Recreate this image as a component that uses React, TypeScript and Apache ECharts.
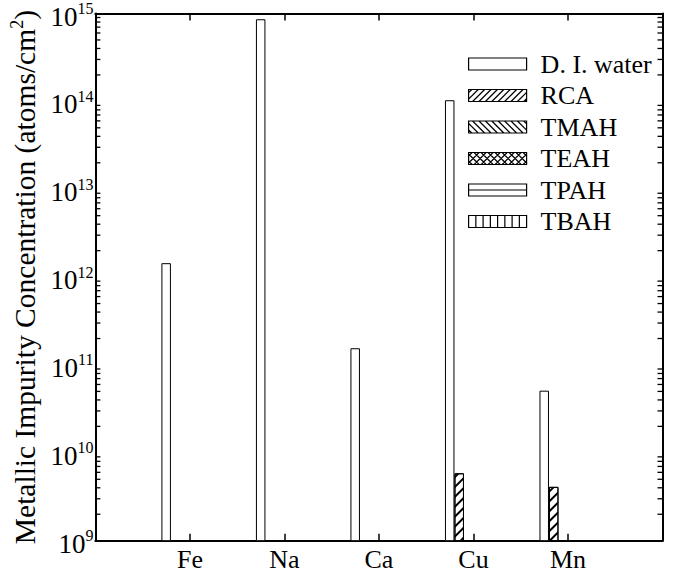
import React, { useEffect, useRef } from "react";
import * as echarts from "echarts";

const categories = ["", "Fe", "Na", "Ca", "Cu", "Mn", ""];
const seriesNames = ["D. I. water", "RCA", "TMAH", "TEAH", "TPAH", "TBAH"];
const diWater = [null, 1.44e12, 8.6e14, 1.55e11, 1.03e14, 5.1e10, null];
const rca = [null, null, null, null, 5.85e9, 4.1e9, null];
const tmah = [null, null, null, null, null, null, null];
const teah = [null, null, null, null, null, null, null];
const tpah = [null, null, null, null, null, null, null];
const tbah = [null, null, null, null, null, null, null];
const yMin = 1e9;
const yMax = 1e15;
const minorTickValues: number[] = [];
for (let d = 9; d < 15; d++) for (let k = 2; k <= 9; k++) minorTickValues.push(k * Math.pow(10, d));

const FONT = "'Liberation Serif', 'Times New Roman', serif";

// Legend icon paths (58 x 12 box)
const W = 58;
const H = 12;
const rectPath = `M0 0 L${W} 0 L${W} ${H} L0 ${H} Z`;
function clipSeg(x1: number, y1: number, x2: number, y2: number): string {
  // line with slope +-1 across the box, clip to x in [0, W]
  const dx = x2 - x1;
  const dy = y2 - y1;
  let t0 = 0;
  let t1 = 1;
  if (x1 < 0) t0 = Math.max(t0, (0 - x1) / dx);
  if (x2 > W) t1 = Math.min(t1, (W - x1) / dx);
  if (t0 >= t1) return "";
  const ax = x1 + dx * t0, ay = y1 + dy * t0, bx = x1 + dx * t1, by = y1 + dy * t1;
  return ` M${ax.toFixed(2)} ${ay.toFixed(2)} L${bx.toFixed(2)} ${by.toFixed(2)}`;
}
function hatch(dir: number, step: number): string {
  let d = "";
  for (let s = -H + step / 2; s < W; s += step) {
    d += dir > 0 ? clipSeg(s, H, s + H, 0) : clipSeg(s, 0, s + H, H);
  }
  return d;
}
function verticals(step: number): string {
  let d = "";
  for (let x = step; x < W - 1; x += step) d += ` M${x.toFixed(2)} 0 L${x.toFixed(2)} ${H}`;
  return d;
}
const legendIcons = [
  "path://" + rectPath,
  "path://" + rectPath + hatch(1, 6.4),
  "path://" + rectPath + hatch(-1, 6.4),
  "path://" + rectPath + hatch(1, 7) + hatch(-1, 7),
  "path://" + rectPath + ` M0 ${H / 2} L${W} ${H / 2}`,
  "path://" + rectPath + verticals(7.25),
];

export default function App() {
  const ref = useRef<HTMLDivElement>(null);
  useEffect(() => {
    if (!ref.current) return;
    const chart = echarts.init(ref.current, undefined, { renderer: "svg" });
    const decals: any[] = [
      undefined,
      { symbol: "rect", color: "#000", dashArrayX: [1, 0], dashArrayY: [1.2, 4.5], rotation: -Math.PI / 4 },
      { symbol: "rect", color: "#000", dashArrayX: [1, 0], dashArrayY: [1.2, 4.5], rotation: Math.PI / 4 },
      undefined,
      undefined,
      undefined,
    ];
    const allData = [diWater, rca, tmah, teah, tpah, tbah];
    const barSeries = seriesNames.map((name, i) => ({
      type: "bar",
      name,
      data: allData[i],
      barWidth: 9.5,
      barGap: "0%",
      xAxisIndex: 0,
      yAxisIndex: 0,
      itemStyle: {
        color: "#fff",
        borderColor: "#000",
        borderWidth: 1,
        decal: decals[i],
      },
    }));
    const option: any = {
      animation: false,
      backgroundColor: "#fff",
      textStyle: { fontFamily: FONT },
      grid: { left: 89.5, right: 10.5, top: 13.5, bottom: 33.3 },
      legend: {
        data: seriesNames.map((name, i) => ({ name, icon: legendIcons[i] })),
        orient: "vertical",
        left: 468,
        top: 51,
        padding: 0,
        itemWidth: W,
        itemHeight: H,
        itemGap: 5.5,
        symbolKeepAspect: false,
        selectedMode: false,
        textStyle: { fontFamily: FONT, fontSize: 26, color: "#000", padding: [0, 0, 0, 9], lineHeight: 26 },
        itemStyle: { color: "#fff", borderColor: "#000", borderWidth: 1.2, decal: "none" },
      },
      xAxis: [
        {
          type: "category",
          data: categories,
          boundaryGap: false,
          axisLine: { lineStyle: { color: "#000", width: 2 } },
          axisTick: { inside: true, length: 7, lineStyle: { width: 1.5 } },
          axisLabel: { color: "#000", fontFamily: FONT, fontSize: 26, margin: 6, interval: 0 },
          splitLine: { show: false },
        },
        {
          type: "category",
          data: categories,
          position: "top",
          boundaryGap: false,
          axisLine: { lineStyle: { color: "#000", width: 2 } },
          axisTick: { inside: true, length: 7, lineStyle: { width: 1.5 } },
          axisLabel: { show: false },
          splitLine: { show: false },
        },
      ],
      yAxis: [
        {
          type: "log",
          logBase: 10,
          min: yMin,
          max: yMax,
          splitNumber: 6,
          name: "{t|Metallic Impurity Concentration (atoms/cm}{s|2}{t|)}",
          nameLocation: "middle",
          nameRotate: 90,
          nameGap: 52,
          nameTextStyle: {
            rich: {
              t: { fontFamily: FONT, fontSize: 29.5, color: "#000" },
              s: { fontFamily: FONT, fontSize: 18, color: "#000", padding: [0, 0, 15, 0] },
            },
          },
          axisLine: { show: true, lineStyle: { color: "#000", width: 2 } },
          axisTick: { inside: true, length: 8, lineStyle: { width: 1.5 } },
          axisLabel: {
            color: "#000",
            margin: 2,
            formatter: (v: number) => `{b|10}{s|${Math.round(Math.log10(v))}}`,
            rich: {
              b: { fontFamily: FONT, fontSize: 27, color: "#000", padding: [6, 0, 0, 0] },
              s: { fontFamily: FONT, fontSize: 16, color: "#000", padding: [0, 0, 10, 0] },
            },
          },
          splitLine: { show: false },
        },
        {
          type: "log",
          logBase: 10,
          min: yMin,
          max: yMax,
          splitNumber: 6,
          position: "right",
          axisLine: { show: true, lineStyle: { color: "#000", width: 2 } },
          axisTick: { inside: true, length: 8, lineStyle: { width: 1.5 } },
          axisLabel: { show: false },
          splitLine: { show: false },
        },
      ],
      series: [
        ...barSeries,
        {
          type: "custom",
          name: "minorTicks",
          silent: true,
          xAxisIndex: 0,
          yAxisIndex: 0,
          data: minorTickValues.map((v) => [0, v]),
          renderItem: (params: any, api: any) => {
            const p = api.coord([0, api.value(1)]);
            const cs = params.coordSys;
            const x0 = cs.x;
            const x1 = cs.x + cs.width;
            const y = p[1];
            return {
              type: "group",
              children: [
                { type: "line", shape: { x1: x0, y1: y, x2: x0 + 5, y2: y }, style: { stroke: "#000", lineWidth: 1.3 } },
                { type: "line", shape: { x1: x1 - 5, y1: y, x2: x1, y2: y }, style: { stroke: "#000", lineWidth: 1.3 } },
              ],
            };
          },
        },
      ],
    };
    chart.setOption(option);
    return () => chart.dispose();
  }, []);
  return (
    <div
      ref={ref}
      style={{ position: "fixed", left: 0, top: 0, width: 673, height: 574, background: "#fff" }}
    />
  );
}
